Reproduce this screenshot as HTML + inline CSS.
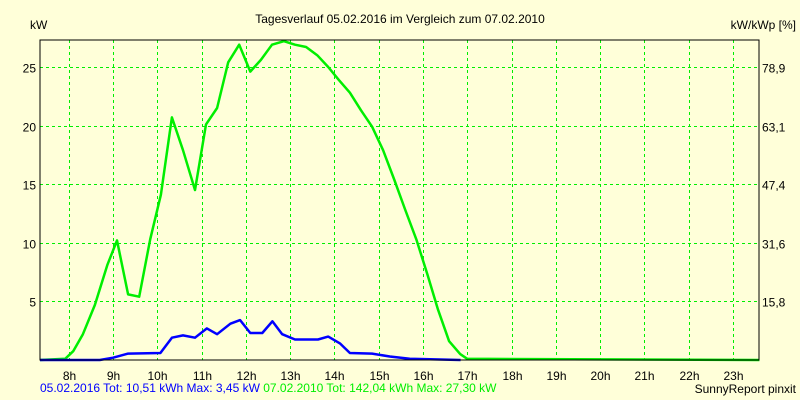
<!DOCTYPE html>
<html><head><meta charset="utf-8"><style>
html,body{margin:0;padding:0;background:#ffffd9;}
svg{display:block;font-family:"Liberation Sans",sans-serif;font-size:12px;}
</style></head><body>
<svg id="chart" width="800" height="400">
<rect x="0" y="0" width="800" height="400" fill="#ffffd9"/>
<text x="400" y="23" text-anchor="middle">Tagesverlauf 05.02.2016 im Vergleich zum 07.02.2010</text>
<text x="30" y="29">kW</text>
<text x="796" y="29" text-anchor="end">kW/kWp [%]</text>
<g id="grid"></g>
<g id="series"></g>
<rect x="40" y="40" width="719" height="320" fill="none" stroke="#000" stroke-width="1"/>
<g id="labels"></g>
<text x="40" y="392" font-size="12"><tspan fill="#0000ff">05.02.2016 Tot: 10,51 kWh Max: 3,45 kW</tspan><tspan fill="#00ee00"> 07.02.2010 Tot: 142,04 kWh Max: 27,30 kW</tspan></text>
<text x="796" y="393" text-anchor="end">SunnyReport pinxit</text>
</svg>
<script>
const hourTicks=[8,9,10,11,12,13,14,15,16,17,18,19,20,21,22,23];
const kwTicks=[5,10,15,20,25];
const pctTicks=["15,8","31,6","47,4","63,1","78,9"];
const greenHours=[7.35,7.92,8.1,8.32,8.59,8.87,9.09,9.34,9.59,9.84,10.08,10.33,10.58,10.85,11.1,11.35,11.6,11.85,12.1,12.34,12.59,12.86,13.11,13.36,13.61,13.86,14.1,14.35,14.6,14.85,15.1,15.35,15.6,15.85,16.1,16.34,16.59,16.84,17.0,23.6];
const greenKw=[0,0.1,0.75,2.2,4.7,8.1,10.2,5.6,5.4,10.3,14.1,20.7,17.9,14.5,20.1,21.5,25.4,26.9,24.6,25.6,26.9,27.2,26.9,26.7,26.0,25.0,23.9,22.8,21.3,19.9,17.9,15.4,12.8,10.3,7.3,4.3,1.6,0.5,0.1,0];
const blueHours=[7.35,8.7,9.0,9.34,10.07,10.33,10.58,10.85,11.12,11.35,11.65,11.87,12.1,12.37,12.6,12.82,13.11,13.63,13.86,14.13,14.35,14.85,15.25,15.7,16.85];
const blueKw=[0,0,0.2,0.55,0.6,1.9,2.1,1.9,2.7,2.2,3.1,3.4,2.3,2.3,3.3,2.2,1.75,1.75,2.0,1.4,0.6,0.55,0.3,0.1,0];
const NS="http://www.w3.org/2000/svg";
const X0=40,X1=759,Y0=40,Y1=360,HMIN=7.35,HMAX=23.59,KMAX=27.3;
function xs(h){return X0+(h-HMIN)/(HMAX-HMIN)*(X1-X0);}
function ys(k){return Y1-k/KMAX*(Y1-Y0);}
function mk(t,a,p){const e=document.createElementNS(NS,t);for(const k in a)e.setAttribute(k,a[k]);p.appendChild(e);return e;}
const grid=document.getElementById('grid'),labels=document.getElementById('labels'),series=document.getElementById('series');
hourTicks.forEach(h=>{
 const x=Math.round(xs(h))+0.5;
 const l=mk('line',{x1:x,x2:x,y1:Y0,y2:Y1,stroke:'#00ee00','stroke-dasharray':'3,3'},grid);
 
 
 const t=mk('text',{x:x,y:380,'text-anchor':'middle'},labels);t.textContent=h+'h';
 
 
});
kwTicks.forEach((k,i)=>{
 const y=Math.round(ys(k))+0.5;
 const l=mk('line',{x1:X0,x2:X1,y1:y,y2:y,stroke:'#00ee00','stroke-dasharray':'3,3'},grid);
 
 
 const t=mk('text',{x:36,y:y+5,'text-anchor':'end'},labels);t.textContent=k;
 
 
 const t2=mk('text',{x:762,y:y+5},labels);t2.textContent=pctTicks[i];
 
 
});
function line(hs,ks,color,name){
 const pts=hs.map((h,i)=>xs(h).toFixed(1)+','+ys(ks[i]).toFixed(1)).join(' ');
 const p=mk('polyline',{points:pts,fill:'none',stroke:color,'stroke-width':2.5,'stroke-linejoin':'round'},series);
 
 
}
line(greenHours,greenKw,'#00ee00','series-2010-line');
line(blueHours,blueKw,'#0000ff','series-2016-line');
</script>
</body></html>
